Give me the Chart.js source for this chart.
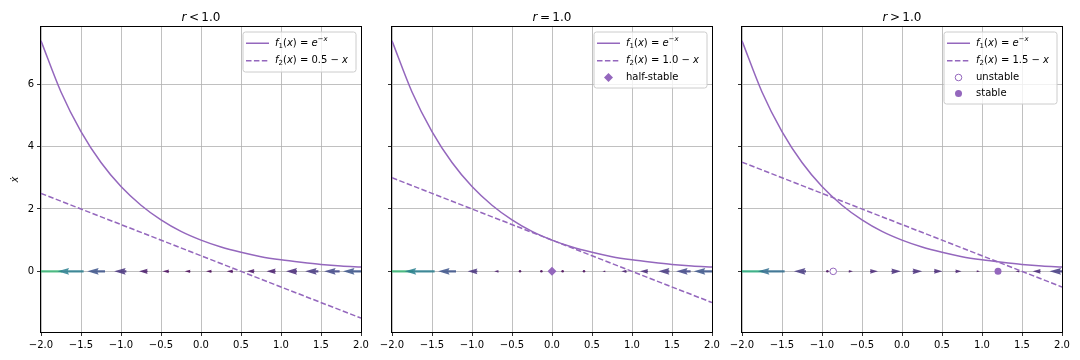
<!DOCTYPE html>
<html>
<head>
<meta charset="utf-8">
<script src="https://cdn.jsdelivr.net/npm/chart.js@4.4.0/dist/chart.umd.min.js"></script>
<style>
  html, body { margin: 0; padding: 0; background: #fff; }
  #wrap { position: relative; width: 1080px; height: 360px; overflow: hidden; }
  #wrap canvas { position: absolute; top: 0; }
</style>
</head>
<body>
<div id="wrap">
  <canvas id="c0" width="372" height="360" style="left:0px"></canvas>
  <canvas id="c1" width="372" height="360" style="left:351px"></canvas>
  <canvas id="c2" width="372" height="360" style="left:701px"></canvas>
</div>
<script>
// values
const rValues = [0.5, 1.0, 1.5];
const titles = ["<", "=", ">"];

const xTicks = [-2.0, -1.5, -1.0, -0.5, 0.0, 0.5, 1.0, 1.5, 2.0];
const yTicks = [0, 2, 4, 6];

// f1(x) = e^-x, sampled along x
const curveX = [-2.0, -1.75, -1.5, -1.25, -1.0, -0.75, -0.5, -0.25, 0.0, 0.25, 0.5, 0.75, 1.0, 1.25, 1.5, 1.75, 2.0];
const f1Vals = [7.39, 5.75, 4.48, 3.49, 2.72, 2.12, 1.65, 1.28, 1.00, 0.78, 0.61, 0.47, 0.37, 0.29, 0.22, 0.17, 0.14];

// f2(x) = r - x, end points
const lineX = [-2.0, 2.0];
const f2Below = [2.5, -1.5];
const f2At = [3.0, -1.0];
const f2Above = [3.5, -0.5];

// flow arrows on the x axis (tail positions and x-dot)
const arrowX = [-2.0, -1.733, -1.467, -1.2, -0.933, -0.667, -0.4, -0.133, 0.133, 0.4, 0.667, 0.933, 1.2, 1.467, 1.733, 2.0];
const xdotBelow = [-4.89, -3.43, -2.37, -1.62, -1.11, -0.78, -0.59, -0.51, -0.51, -0.57, -0.68, -0.83, -1.00, -1.20, -1.41, -1.64];
const xdotAt = [-4.39, -2.93, -1.87, -1.12, -0.61, -0.28, -0.09, -0.01, -0.01, -0.07, -0.18, -0.33, -0.50, -0.70, -0.91, -1.14];
const xdotAbove = [-3.89, -2.43, -1.37, -0.62, -0.11, 0.22, 0.41, 0.49, 0.49, 0.43, 0.32, 0.17, 0.00, -0.20, -0.41, -0.64];

// fixed points
const halfStableX = [0.0];
const unstableX = [-0.86];
const stableX = [1.2];

const PURPLE = "#9467bd";
const Y_MIN = -1.944, Y_MAX = 7.833;
const ARROW_SCALE = [11, 16, 19.5];   // px per unit of x-dot, per panel
const SHAFT_W = 2.3;
const ARROW_ALPHA = 0.85;

Chart.defaults.font.family = "'DejaVu Sans', sans-serif";
Chart.defaults.font.size = 10;
Chart.defaults.color = "#000";

const VIRIDIS = [
  [68, 1, 84], [72, 36, 117], [65, 68, 135], [53, 95, 141], [42, 120, 142],
  [33, 145, 140], [34, 168, 132], [68, 191, 112], [122, 209, 81], [189, 223, 38], [253, 231, 37]
];
function viridis(t) {
  t = Math.max(0, Math.min(1, t)) * 10;
  const i = Math.min(9, Math.floor(t)), f = t - i;
  const a = VIRIDIS[i], b = VIRIDIS[i + 1];
  const c = a.map((v, k) => Math.round(v + (b[k] - v) * f));
  return `rgba(${c[0]},${c[1]},${c[2]},${ARROW_ALPHA})`;
}

const fmt = v => (v < 0 ? "\u2212" : "") + Math.abs(v).toFixed(1);

function drawArrow(ctx, x0, y0, len, dir, color) {
  const w = SHAFT_W, hl = 5 * w, hal = 4.5 * w, hw = 3 * w;
  ctx.fillStyle = color;
  if (len < w) {
    ctx.beginPath();
    ctx.arc(x0, y0, w * 0.55, 0, Math.PI * 2);
    ctx.fill();
    return;
  }
  let s = 1, L = len;
  if (len < hl) { s = len / hl; L = hl; }
  const pts = [[0, -w / 2], [L - hal, -w / 2], [L - hl, -hw / 2], [L, 0], [L - hl, hw / 2], [L - hal, w / 2], [0, w / 2]];
  ctx.beginPath();
  pts.forEach(([px, py], k) => {
    const X = x0 + dir * px * s, Y = y0 + py * s;
    if (k) ctx.lineTo(X, Y); else ctx.moveTo(X, Y);
  });
  ctx.closePath();
  ctx.fill();
}

// rich text: segments of [text, italic, kind]
function segFont(seg) {
  const size = seg[2] ? 7 : 10;
  return (seg[1] ? "italic " : "") + size + "px 'DejaVu Sans', sans-serif";
}
function measureRich(ctx, segs) {
  let w = 0;
  segs.forEach(s => { ctx.font = segFont(s); w += ctx.measureText(s[0]).width; });
  return w;
}
function drawRich(ctx, segs, x, y) {
  ctx.textBaseline = "middle";
  ctx.textAlign = "left";
  segs.forEach(s => {
    ctx.font = segFont(s);
    const dy = s[2] === "sub" ? 2.5 : s[2] === "sup" ? -4 : 0;
    ctx.fillText(s[0], x, y + dy);
    x += ctx.measureText(s[0]).width;
  });
}

function legendItems(p) {
  const f1 = [["f", 1], ["1", 0, "sub"], ["(", 0], ["x", 1], [") = ", 0], ["e", 1], ["\u2212", 0, "sup"], ["x", 1, "sup"]];
  const f2 = [["f", 1], ["2", 0, "sub"], ["(", 0], ["x", 1], [") = " + rValues[p].toFixed(1) + " \u2212 ", 0], ["x", 1]];
  const items = [{ segs: f1, kind: "line" }, { segs: f2, kind: "dash" }];
  if (p === 1) items.push({ segs: [["half-stable", 0]], kind: "diamond" });
  if (p === 2) {
    items.push({ segs: [["unstable", 0]], kind: "open" });
    items.push({ segs: [["stable", 0]], kind: "dot" });
  }
  return items;
}

function drawMarker(ctx, kind, x, y) {
  ctx.fillStyle = PURPLE;
  ctx.strokeStyle = PURPLE;
  ctx.lineWidth = 1;
  ctx.beginPath();
  if (kind === "diamond") {
    const r = 4.5;
    ctx.moveTo(x, y - r); ctx.lineTo(x + r, y); ctx.lineTo(x, y + r); ctx.lineTo(x - r, y);
    ctx.closePath(); ctx.fill();
  } else if (kind === "open") {
    ctx.arc(x, y, 3.3, 0, Math.PI * 2);
    ctx.fillStyle = "#fff"; ctx.fill(); ctx.stroke();
  } else {
    ctx.arc(x, y, 3.5, 0, Math.PI * 2);
    ctx.fill();
  }
}

const panelPlugin = {
  id: "panel",
  beforeDatasetsDraw(chart, args, opts) {
    const { ctx, chartArea: a, scales } = chart;
    const p = opts.index;
    const u = opts.xdot;
    const mags = u.map(Math.abs);
    const lo = Math.min(...mags), hi = Math.max(...mags);
    ctx.save();
    ctx.beginPath();
    ctx.rect(a.left, a.top, a.right - a.left, a.bottom - a.top);
    ctx.clip();
    const y0 = scales.y.getPixelForValue(0);
    arrowX.forEach((xv, i) => {
      const x0 = scales.x.getPixelForValue(xv);
      const len = mags[i] * ARROW_SCALE[p];
      const dir = u[i] < 0 ? -1 : 1;
      if (len === 0) return;
      drawArrow(ctx, x0, y0, len, dir, viridis((mags[i] - lo) / (hi - lo)));
    });
    ctx.restore();
  },
  afterDraw(chart, args, opts) {
    const { ctx, chartArea: a } = chart;
    const p = opts.index;
    ctx.save();
    // spines
    ctx.strokeStyle = "#000";
    ctx.lineWidth = 1;
    ctx.strokeRect(Math.round(a.left) - 0.5, Math.round(a.top) - 0.5, Math.round(a.right - a.left) + 1, Math.round(a.bottom - a.top) + 1);

    // title
    ctx.fillStyle = "#000";
    ctx.textBaseline = "alphabetic";
    const rest = "\u2009" + titles[p] + "\u2009" + "1.0";
    ctx.font = "italic 12px 'DejaVu Sans', sans-serif";
    const w1 = ctx.measureText("r").width;
    ctx.font = "12px 'DejaVu Sans', sans-serif";
    const w2 = ctx.measureText(rest).width;
    const tx = (a.left + a.right) / 2 - (w1 + w2) / 2;
    ctx.textAlign = "left";
    ctx.font = "italic 12px 'DejaVu Sans', sans-serif";
    ctx.fillText("r", tx, a.top - 6);
    ctx.font = "12px 'DejaVu Sans', sans-serif";
    ctx.fillText(rest, tx + w1, a.top - 6);

    // y label
    if (p === 0) {
      ctx.save();
      ctx.translate(15, (a.top + a.bottom) / 2);
      ctx.rotate(-Math.PI / 2);
      ctx.textAlign = "center";
      ctx.textBaseline = "middle";
      ctx.font = "italic 10px 'DejaVu Sans', sans-serif";
      ctx.fillText("\u1E8B", 0, 0);
      ctx.restore();
    }

    // legend
    const items = legendItems(p);
    const maxW = Math.max(...items.map(it => measureRich(ctx, it.segs)));
    const bw = 32 + maxW + 8;
    const rowH = items.map(it => (it.kind === "line" || it.kind === "dash") ? 17.5 : 16);
    const bh = 5 + rowH.reduce((s, v) => s + v, 0);
    const bx = a.right - 5 - bw, by = a.top + 5;
    ctx.beginPath();
    const r = 2.5;
    ctx.moveTo(bx + r, by); ctx.lineTo(bx + bw - r, by); ctx.arcTo(bx + bw, by, bx + bw, by + r, r);
    ctx.lineTo(bx + bw, by + bh - r); ctx.arcTo(bx + bw, by + bh, bx + bw - r, by + bh, r);
    ctx.lineTo(bx + r, by + bh); ctx.arcTo(bx, by + bh, bx, by + bh - r, r);
    ctx.lineTo(bx, by + r); ctx.arcTo(bx, by, bx + r, by, r);
    ctx.closePath();
    ctx.fillStyle = "rgba(255,255,255,0.8)";
    ctx.fill();
    ctx.strokeStyle = "#cccccc";
    ctx.lineWidth = 1;
    ctx.stroke();
    let cy = by + 2.5;
    items.forEach((it, k) => {
      const yc = cy + rowH[k] / 2;
      if (it.kind === "line" || it.kind === "dash") {
        ctx.strokeStyle = PURPLE;
        ctx.lineWidth = 1.5;
        ctx.setLineDash(it.kind === "dash" ? [5.5, 2.4] : []);
        ctx.beginPath();
        ctx.moveTo(bx + 3, yc); ctx.lineTo(bx + 26, yc);
        ctx.stroke();
        ctx.setLineDash([]);
      } else {
        drawMarker(ctx, it.kind, bx + 14.5, yc);
      }
      ctx.fillStyle = "#000";
      drawRich(ctx, it.segs, bx + 32, yc);
      cy += rowH[k];
    });
    ctx.restore();
  }
};

function toXY(xs, ys) { return xs.map((x, i) => ({ x, y: ys[i] })); }

function buildPanel(p, canvasId, f2Vals, xdot) {
  const datasets = [];
  if (p === 1) {
    datasets.push({ data: toXY(halfStableX, [0]), pointStyle: "rectRot", pointRadius: 4.5,
      backgroundColor: PURPLE, borderColor: PURPLE, borderWidth: 0, showLine: false });
  }
  if (p === 2) {
    datasets.push({ data: toXY(unstableX, [0]), pointStyle: "circle", pointRadius: 3.3,
      backgroundColor: "#fff", borderColor: PURPLE, borderWidth: 1, showLine: false });
    datasets.push({ data: toXY(stableX, [0]), pointStyle: "circle", pointRadius: 3.5,
      backgroundColor: PURPLE, borderColor: PURPLE, borderWidth: 0, showLine: false });
  }
  datasets.push({ data: toXY(curveX, f1Vals), showLine: true, borderColor: PURPLE, borderWidth: 1.5,
    pointRadius: 0, cubicInterpolationMode: "monotone" });
  datasets.push({ data: toXY(lineX, f2Vals), showLine: true, borderColor: PURPLE, borderWidth: 1.5,
    borderDash: [5.5, 2.4], pointRadius: 0 });

  return new Chart(document.getElementById(canvasId), {
    type: "scatter",
    data: { datasets },
    options: {
      responsive: false,
      animation: false,
      devicePixelRatio: 1,
      layout: { padding: { top: 27, right: 11, bottom: 0, left: 0 } },
      plugins: {
        legend: { display: false },
        tooltip: { enabled: false },
        panel: { index: p, xdot }
      },
      scales: {
        x: {
          type: "linear", min: -2, max: 2,
          afterBuildTicks: s => { s.ticks = xTicks.map(v => ({ value: v })); },
          afterFit: s => { s.height = 28; s.paddingLeft = 0; s.paddingRight = 0; },
          ticks: { callback: v => fmt(v), padding: 3, maxRotation: 0, autoSkip: false, color: "#000" },
          grid: { color: "#b0b0b0", lineWidth: 0.8, tickColor: "#000", tickLength: 4, drawTicks: true },
          border: { display: false }
        },
        y: {
          type: "linear", min: Y_MIN, max: Y_MAX,
          afterBuildTicks: s => { s.ticks = yTicks.map(v => ({ value: v })); },
          afterFit: s => { s.width = 41; s.paddingTop = 0; s.paddingBottom = 0; },
          ticks: { display: p === 0, callback: v => String(v), padding: 3, color: "#000" },
          grid: { color: "#b0b0b0", lineWidth: 0.8, tickColor: "#000", tickLength: 4, drawTicks: true },
          border: { display: false }
        }
      }
    },
    plugins: [panelPlugin]
  });
}

buildPanel(0, "c0", f2Below, xdotBelow);
buildPanel(1, "c1", f2At, xdotAt);
buildPanel(2, "c2", f2Above, xdotAbove);
</script>
</body>
</html>
